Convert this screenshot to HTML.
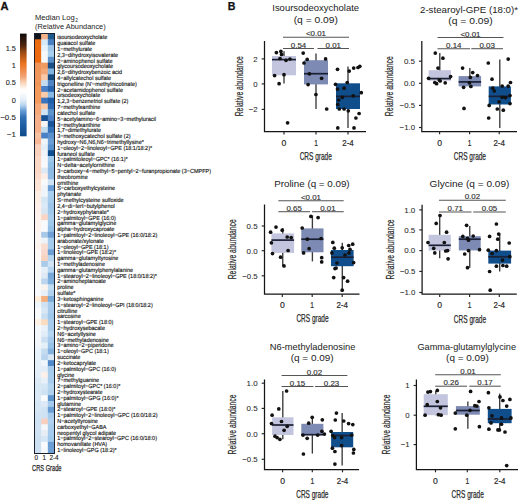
<!DOCTYPE html>
<html><head><meta charset="utf-8"><style>
html,body{margin:0;padding:0;background:#fff;width:520px;height:500px;overflow:hidden}
svg{display:block}
text{font-family:"Liberation Sans", sans-serif}
</style></head><body>
<svg width="520" height="500" viewBox="0 0 520 500">
<defs><linearGradient id="cb" x1="0" y1="0" x2="0" y2="1"><stop offset="0.0000" stop-color="#0e0a08"/><stop offset="0.1106" stop-color="#4a2410"/><stop offset="0.1876" stop-color="#a04c14"/><stop offset="0.2948" stop-color="#ec7420"/><stop offset="0.4121" stop-color="#f2a070"/><stop offset="0.4724" stop-color="#f8d0b0"/><stop offset="0.5461" stop-color="#ffffff"/><stop offset="0.5796" stop-color="#fbfcfd"/><stop offset="0.6466" stop-color="#e4eef8"/><stop offset="0.6968" stop-color="#b8d4ee"/><stop offset="0.7471" stop-color="#6a9fd8"/><stop offset="0.8141" stop-color="#2f6fb4"/><stop offset="0.9146" stop-color="#1a5a9e"/><stop offset="1.0000" stop-color="#0d4a88"/></linearGradient></defs>
<rect width="520" height="500" fill="#fff"/>
<text x="0.60" y="10.40" font-size="11.8" text-anchor="start" fill="#111" textLength="8.00" lengthAdjust="spacingAndGlyphs" font-weight="bold" stroke="#111" stroke-width="0.3">A</text>
<text x="35.00" y="19.70" font-size="7.5" text-anchor="start" fill="#222" textLength="39.80" lengthAdjust="spacingAndGlyphs">Median Log</text>
<text x="75.30" y="22.20" font-size="4.8" text-anchor="start" fill="#222">2</text>
<text x="35.00" y="28.70" font-size="7.5" text-anchor="start" fill="#222" textLength="70.70" lengthAdjust="spacingAndGlyphs">(Relative Abundance)</text>
<rect x="20" y="33.61" width="6.6" height="102.68" fill="url(#cb)"/>
<text x="15.80" y="51.00" font-size="7.3" text-anchor="end" fill="#2a2a2a" stroke="#2a2a2a" stroke-width="0.12">1.5</text>
<text x="15.80" y="68.20" font-size="7.3" text-anchor="end" fill="#2a2a2a" stroke="#2a2a2a" stroke-width="0.12">1</text>
<text x="15.80" y="85.40" font-size="7.3" text-anchor="end" fill="#2a2a2a" stroke="#2a2a2a" stroke-width="0.12">0.5</text>
<text x="15.80" y="102.60" font-size="7.3" text-anchor="end" fill="#2a2a2a" stroke="#2a2a2a" stroke-width="0.12">0</text>
<text x="15.80" y="119.80" font-size="7.3" text-anchor="end" fill="#2a2a2a" textLength="15.60" lengthAdjust="spacingAndGlyphs" stroke="#2a2a2a" stroke-width="0.12">−0.5</text>
<text x="15.80" y="137.00" font-size="7.3" text-anchor="end" fill="#2a2a2a" textLength="9.00" lengthAdjust="spacingAndGlyphs" stroke="#2a2a2a" stroke-width="0.12">−1</text>
<rect x="34.50" y="33.500" width="7.27" height="6.433" fill="#10141c"/>
<rect x="41.17" y="33.500" width="7.27" height="6.433" fill="#f5b38a"/>
<rect x="47.83" y="33.500" width="6.67" height="6.433" fill="#1f5a8c"/>
<rect x="34.50" y="39.333" width="7.27" height="6.433" fill="#ec6a10"/>
<rect x="41.17" y="39.333" width="7.27" height="6.433" fill="#d5e8f5"/>
<rect x="47.83" y="39.333" width="6.67" height="6.433" fill="#4a7fc0"/>
<rect x="34.50" y="45.167" width="7.27" height="6.433" fill="#ec6a10"/>
<rect x="41.17" y="45.167" width="7.27" height="6.433" fill="#e8f2fa"/>
<rect x="47.83" y="45.167" width="6.67" height="6.433" fill="#9cc5e8"/>
<rect x="34.50" y="51.000" width="7.27" height="6.433" fill="#ec6a10"/>
<rect x="41.17" y="51.000" width="7.27" height="6.433" fill="#f4f8fb"/>
<rect x="47.83" y="51.000" width="6.67" height="6.433" fill="#a8cfee"/>
<rect x="34.50" y="56.833" width="7.27" height="6.433" fill="#ec6a10"/>
<rect x="41.17" y="56.833" width="7.27" height="6.433" fill="#f8f9fa"/>
<rect x="47.83" y="56.833" width="6.67" height="6.433" fill="#5a90c8"/>
<rect x="34.50" y="62.667" width="7.27" height="6.433" fill="#f0955a"/>
<rect x="41.17" y="62.667" width="7.27" height="6.433" fill="#f19a60"/>
<rect x="47.83" y="62.667" width="6.67" height="6.433" fill="#1c4f85"/>
<rect x="34.50" y="68.500" width="7.27" height="6.433" fill="#f0955a"/>
<rect x="41.17" y="68.500" width="7.27" height="6.433" fill="#f4a878"/>
<rect x="47.83" y="68.500" width="6.67" height="6.433" fill="#82b4e0"/>
<rect x="34.50" y="74.333" width="7.27" height="6.433" fill="#f0955a"/>
<rect x="41.17" y="74.333" width="7.27" height="6.433" fill="#f8c8a8"/>
<rect x="47.83" y="74.333" width="6.67" height="6.433" fill="#174a7e"/>
<rect x="34.50" y="80.167" width="7.27" height="6.433" fill="#f0955a"/>
<rect x="41.17" y="80.167" width="7.27" height="6.433" fill="#c5dcf0"/>
<rect x="47.83" y="80.167" width="6.67" height="6.433" fill="#4f85c4"/>
<rect x="34.50" y="86.000" width="7.27" height="6.433" fill="#f39a5c"/>
<rect x="41.17" y="86.000" width="7.27" height="6.433" fill="#4a80c8"/>
<rect x="47.83" y="86.000" width="6.67" height="6.433" fill="#2a66b0"/>
<rect x="34.50" y="91.833" width="7.27" height="6.433" fill="#f39a5c"/>
<rect x="41.17" y="91.833" width="7.27" height="6.433" fill="#f9cba8"/>
<rect x="47.83" y="91.833" width="6.67" height="6.433" fill="#8ab8e5"/>
<rect x="34.50" y="97.667" width="7.27" height="6.433" fill="#f39a5c"/>
<rect x="41.17" y="97.667" width="7.27" height="6.433" fill="#3a74bf"/>
<rect x="47.83" y="97.667" width="6.67" height="6.433" fill="#2060aa"/>
<rect x="34.50" y="103.500" width="7.27" height="6.433" fill="#f5a878"/>
<rect x="41.17" y="103.500" width="7.27" height="6.433" fill="#f8c9a8"/>
<rect x="47.83" y="103.500" width="6.67" height="6.433" fill="#2d6bb5"/>
<rect x="34.50" y="109.333" width="7.27" height="6.433" fill="#f5a878"/>
<rect x="41.17" y="109.333" width="7.27" height="6.433" fill="#d0e4f5"/>
<rect x="47.83" y="109.333" width="6.67" height="6.433" fill="#5e94cc"/>
<rect x="34.50" y="115.167" width="7.27" height="6.433" fill="#f5b08a"/>
<rect x="41.17" y="115.167" width="7.27" height="6.433" fill="#1a5296"/>
<rect x="47.83" y="115.167" width="6.67" height="6.433" fill="#4a82c5"/>
<rect x="34.50" y="121.000" width="7.27" height="6.433" fill="#f5b08a"/>
<rect x="41.17" y="121.000" width="7.27" height="6.433" fill="#f5f5f5"/>
<rect x="47.83" y="121.000" width="6.67" height="6.433" fill="#1c569a"/>
<rect x="34.50" y="126.833" width="7.27" height="6.433" fill="#f5b08a"/>
<rect x="41.17" y="126.833" width="7.27" height="6.433" fill="#c0daf0"/>
<rect x="47.83" y="126.833" width="6.67" height="6.433" fill="#3472b8"/>
<rect x="34.50" y="132.667" width="7.27" height="6.433" fill="#f7c0a0"/>
<rect x="41.17" y="132.667" width="7.27" height="6.433" fill="#4a80c4"/>
<rect x="47.83" y="132.667" width="6.67" height="6.433" fill="#5a90cc"/>
<rect x="34.50" y="138.500" width="7.27" height="6.433" fill="#f8b898"/>
<rect x="41.17" y="138.500" width="7.27" height="6.433" fill="#eef5fb"/>
<rect x="47.83" y="138.500" width="6.67" height="6.433" fill="#6a9ed4"/>
<rect x="34.50" y="144.333" width="7.27" height="6.433" fill="#f9d0bb"/>
<rect x="41.17" y="144.333" width="7.27" height="6.433" fill="#e5eff8"/>
<rect x="47.83" y="144.333" width="6.67" height="6.433" fill="#5890cc"/>
<rect x="34.50" y="150.167" width="7.27" height="6.433" fill="#f9d0bb"/>
<rect x="41.17" y="150.167" width="7.27" height="6.433" fill="#f0f5fa"/>
<rect x="47.83" y="150.167" width="6.67" height="6.433" fill="#0f4e8e"/>
<rect x="34.50" y="156.000" width="7.27" height="6.433" fill="#fbd8c5"/>
<rect x="41.17" y="156.000" width="7.27" height="6.433" fill="#f5f7fa"/>
<rect x="47.83" y="156.000" width="6.67" height="6.433" fill="#a0c8ea"/>
<rect x="34.50" y="161.833" width="7.27" height="6.433" fill="#fbd8c5"/>
<rect x="41.17" y="161.833" width="7.27" height="6.433" fill="#f8f9fa"/>
<rect x="47.83" y="161.833" width="6.67" height="6.433" fill="#92bfe6"/>
<rect x="34.50" y="167.667" width="7.27" height="6.433" fill="#fbd8c5"/>
<rect x="41.17" y="167.667" width="7.27" height="6.433" fill="#dde9f5"/>
<rect x="47.83" y="167.667" width="6.67" height="6.433" fill="#8db9e2"/>
<rect x="34.50" y="173.500" width="7.27" height="6.433" fill="#fbdccc"/>
<rect x="41.17" y="173.500" width="7.27" height="6.433" fill="#fbeee8"/>
<rect x="47.83" y="173.500" width="6.67" height="6.433" fill="#8fbbe4"/>
<rect x="34.50" y="179.333" width="7.27" height="6.433" fill="#fce3d5"/>
<rect x="41.17" y="179.333" width="7.27" height="6.433" fill="#f8f9fa"/>
<rect x="47.83" y="179.333" width="6.67" height="6.433" fill="#d0e3f4"/>
<rect x="34.50" y="185.167" width="7.27" height="6.433" fill="#fce3d5"/>
<rect x="41.17" y="185.167" width="7.27" height="6.433" fill="#f0f4f8"/>
<rect x="47.83" y="185.167" width="6.67" height="6.433" fill="#6c9fd5"/>
<rect x="34.50" y="191.000" width="7.27" height="6.433" fill="#fdeee5"/>
<rect x="41.17" y="191.000" width="7.27" height="6.433" fill="#eef5fb"/>
<rect x="47.83" y="191.000" width="6.67" height="6.433" fill="#a8cdee"/>
<rect x="34.50" y="196.833" width="7.27" height="6.433" fill="#fdeee5"/>
<rect x="41.17" y="196.833" width="7.27" height="6.433" fill="#d5e6f5"/>
<rect x="47.83" y="196.833" width="6.67" height="6.433" fill="#a5cbec"/>
<rect x="34.50" y="202.667" width="7.27" height="6.433" fill="#fdf0ea"/>
<rect x="41.17" y="202.667" width="7.27" height="6.433" fill="#dce9f6"/>
<rect x="47.83" y="202.667" width="6.67" height="6.433" fill="#9dc5ea"/>
<rect x="34.50" y="208.500" width="7.27" height="6.433" fill="#fdf0ea"/>
<rect x="41.17" y="208.500" width="7.27" height="6.433" fill="#d8e6f2"/>
<rect x="47.83" y="208.500" width="6.67" height="6.433" fill="#a0c8ea"/>
<rect x="34.50" y="214.333" width="7.27" height="6.433" fill="#fdf2ee"/>
<rect x="41.17" y="214.333" width="7.27" height="6.433" fill="#fad5c5"/>
<rect x="47.83" y="214.333" width="6.67" height="6.433" fill="#a8ceec"/>
<rect x="34.50" y="220.167" width="7.27" height="6.433" fill="#fdf2ee"/>
<rect x="41.17" y="220.167" width="7.27" height="6.433" fill="#f8fafc"/>
<rect x="47.83" y="220.167" width="6.67" height="6.433" fill="#a0c8ea"/>
<rect x="34.50" y="226.000" width="7.27" height="6.433" fill="#fdf3ef"/>
<rect x="41.17" y="226.000" width="7.27" height="6.433" fill="#f8fafc"/>
<rect x="47.83" y="226.000" width="6.67" height="6.433" fill="#95c0e6"/>
<rect x="34.50" y="231.833" width="7.27" height="6.433" fill="#fbf6f4"/>
<rect x="41.17" y="231.833" width="7.27" height="6.433" fill="#a8c8e8"/>
<rect x="47.83" y="231.833" width="6.67" height="6.433" fill="#6e9fd5"/>
<rect x="34.50" y="237.667" width="7.27" height="6.433" fill="#fbf6f4"/>
<rect x="41.17" y="237.667" width="7.27" height="6.433" fill="#eef3f8"/>
<rect x="47.83" y="237.667" width="6.67" height="6.433" fill="#a5cbec"/>
<rect x="34.50" y="243.500" width="7.27" height="6.433" fill="#fdf3ee"/>
<rect x="41.17" y="243.500" width="7.27" height="6.433" fill="#f9ddd0"/>
<rect x="47.83" y="243.500" width="6.67" height="6.433" fill="#a5cbec"/>
<rect x="34.50" y="249.333" width="7.27" height="6.433" fill="#fbf8f6"/>
<rect x="41.17" y="249.333" width="7.27" height="6.433" fill="#f8d8cc"/>
<rect x="47.83" y="249.333" width="6.67" height="6.433" fill="#6d9fd4"/>
<rect x="34.50" y="255.167" width="7.27" height="6.433" fill="#fbf8f6"/>
<rect x="41.17" y="255.167" width="7.27" height="6.433" fill="#f8d2c0"/>
<rect x="47.83" y="255.167" width="6.67" height="6.433" fill="#b5d5f0"/>
<rect x="34.50" y="261.000" width="7.27" height="6.433" fill="#f8f8f8"/>
<rect x="41.17" y="261.000" width="7.27" height="6.433" fill="#a9cae8"/>
<rect x="47.83" y="261.000" width="6.67" height="6.433" fill="#d0e4f5"/>
<rect x="34.50" y="266.833" width="7.27" height="6.433" fill="#f8f8f8"/>
<rect x="41.17" y="266.833" width="7.27" height="6.433" fill="#e5eff8"/>
<rect x="47.83" y="266.833" width="6.67" height="6.433" fill="#b5d5f0"/>
<rect x="34.50" y="272.667" width="7.27" height="6.433" fill="#f8f8f8"/>
<rect x="41.17" y="272.667" width="7.27" height="6.433" fill="#dfeaf6"/>
<rect x="47.83" y="272.667" width="6.67" height="6.433" fill="#78a8d8"/>
<rect x="34.50" y="278.500" width="7.27" height="6.433" fill="#f8f8f8"/>
<rect x="41.17" y="278.500" width="7.27" height="6.433" fill="#bcd5ee"/>
<rect x="47.83" y="278.500" width="6.67" height="6.433" fill="#80b0dd"/>
<rect x="34.50" y="284.333" width="7.27" height="6.433" fill="#f8f8f8"/>
<rect x="41.17" y="284.333" width="7.27" height="6.433" fill="#fbf4ee"/>
<rect x="47.83" y="284.333" width="6.67" height="6.433" fill="#c0dcf2"/>
<rect x="34.50" y="290.167" width="7.27" height="6.433" fill="#f8f9fa"/>
<rect x="41.17" y="290.167" width="7.27" height="6.433" fill="#e8f0f8"/>
<rect x="47.83" y="290.167" width="6.67" height="6.433" fill="#b0d2ee"/>
<rect x="34.50" y="296.000" width="7.27" height="6.433" fill="#fdeede"/>
<rect x="41.17" y="296.000" width="7.27" height="6.433" fill="#f5b080"/>
<rect x="47.83" y="296.000" width="6.67" height="6.433" fill="#7aaad8"/>
<rect x="34.50" y="301.833" width="7.27" height="6.433" fill="#eef5fb"/>
<rect x="41.17" y="301.833" width="7.27" height="6.433" fill="#cfe2f3"/>
<rect x="47.83" y="301.833" width="6.67" height="6.433" fill="#a8ccec"/>
<rect x="34.50" y="307.667" width="7.27" height="6.433" fill="#f8fafc"/>
<rect x="41.17" y="307.667" width="7.27" height="6.433" fill="#d8e7f5"/>
<rect x="47.83" y="307.667" width="6.67" height="6.433" fill="#a5caec"/>
<rect x="34.50" y="313.500" width="7.27" height="6.433" fill="#f8fafc"/>
<rect x="41.17" y="313.500" width="7.27" height="6.433" fill="#c8def2"/>
<rect x="47.83" y="313.500" width="6.67" height="6.433" fill="#9ec6ea"/>
<rect x="34.50" y="319.333" width="7.27" height="6.433" fill="#fdf0e5"/>
<rect x="41.17" y="319.333" width="7.27" height="6.433" fill="#fbdcc0"/>
<rect x="47.83" y="319.333" width="6.67" height="6.433" fill="#a8ccec"/>
<rect x="34.50" y="325.167" width="7.27" height="6.433" fill="#f5f8fb"/>
<rect x="41.17" y="325.167" width="7.27" height="6.433" fill="#eaf2f9"/>
<rect x="47.83" y="325.167" width="6.67" height="6.433" fill="#a8ccec"/>
<rect x="34.50" y="331.000" width="7.27" height="6.433" fill="#f5f8fb"/>
<rect x="41.17" y="331.000" width="7.27" height="6.433" fill="#e0ecf7"/>
<rect x="47.83" y="331.000" width="6.67" height="6.433" fill="#b5d5f0"/>
<rect x="34.50" y="336.833" width="7.27" height="6.433" fill="#f2f6fa"/>
<rect x="41.17" y="336.833" width="7.27" height="6.433" fill="#cde0f2"/>
<rect x="47.83" y="336.833" width="6.67" height="6.433" fill="#a5caec"/>
<rect x="34.50" y="342.667" width="7.27" height="6.433" fill="#f0f5fa"/>
<rect x="41.17" y="342.667" width="7.27" height="6.433" fill="#e5eff8"/>
<rect x="47.83" y="342.667" width="6.67" height="6.433" fill="#98c2e8"/>
<rect x="34.50" y="348.500" width="7.27" height="6.433" fill="#e8f2fa"/>
<rect x="41.17" y="348.500" width="7.27" height="6.433" fill="#c5dcf0"/>
<rect x="47.83" y="348.500" width="6.67" height="6.433" fill="#82b0dd"/>
<rect x="34.50" y="354.333" width="7.27" height="6.433" fill="#e8f2fa"/>
<rect x="41.17" y="354.333" width="7.27" height="6.433" fill="#b8d4ee"/>
<rect x="47.83" y="354.333" width="6.67" height="6.433" fill="#d5e6f5"/>
<rect x="34.50" y="360.167" width="7.27" height="6.433" fill="#e5eff8"/>
<rect x="41.17" y="360.167" width="7.27" height="6.433" fill="#eef5fb"/>
<rect x="47.83" y="360.167" width="6.67" height="6.433" fill="#5088c8"/>
<rect x="34.50" y="366.000" width="7.27" height="6.433" fill="#e5eff8"/>
<rect x="41.17" y="366.000" width="7.27" height="6.433" fill="#e2edf8"/>
<rect x="47.83" y="366.000" width="6.67" height="6.433" fill="#a5caec"/>
<rect x="34.50" y="371.833" width="7.27" height="6.433" fill="#e2eef8"/>
<rect x="41.17" y="371.833" width="7.27" height="6.433" fill="#fbf0ea"/>
<rect x="47.83" y="371.833" width="6.67" height="6.433" fill="#a8ccec"/>
<rect x="34.50" y="377.667" width="7.27" height="6.433" fill="#dceaf6"/>
<rect x="41.17" y="377.667" width="7.27" height="6.433" fill="#e8f0f8"/>
<rect x="47.83" y="377.667" width="6.67" height="6.433" fill="#a8ccec"/>
<rect x="34.50" y="383.500" width="7.27" height="6.433" fill="#d8e8f5"/>
<rect x="41.17" y="383.500" width="7.27" height="6.433" fill="#d5e6f5"/>
<rect x="47.83" y="383.500" width="6.67" height="6.433" fill="#b5d5f0"/>
<rect x="34.50" y="389.333" width="7.27" height="6.433" fill="#d8e8f5"/>
<rect x="41.17" y="389.333" width="7.27" height="6.433" fill="#cfe2f3"/>
<rect x="47.83" y="389.333" width="6.67" height="6.433" fill="#b0d2ee"/>
<rect x="34.50" y="395.167" width="7.27" height="6.433" fill="#dbe9f6"/>
<rect x="41.17" y="395.167" width="7.27" height="6.433" fill="#f8fafc"/>
<rect x="47.83" y="395.167" width="6.67" height="6.433" fill="#5e94cc"/>
<rect x="34.50" y="401.000" width="7.27" height="6.433" fill="#d5e6f5"/>
<rect x="41.17" y="401.000" width="7.27" height="6.433" fill="#dde9f6"/>
<rect x="47.83" y="401.000" width="6.67" height="6.433" fill="#a5caec"/>
<rect x="34.50" y="406.833" width="7.27" height="6.433" fill="#d5e6f5"/>
<rect x="41.17" y="406.833" width="7.27" height="6.433" fill="#d0e3f4"/>
<rect x="47.83" y="406.833" width="6.67" height="6.433" fill="#6a9ed4"/>
<rect x="34.50" y="412.667" width="7.27" height="6.433" fill="#d0e3f4"/>
<rect x="41.17" y="412.667" width="7.27" height="6.433" fill="#cfe2f3"/>
<rect x="47.83" y="412.667" width="6.67" height="6.433" fill="#a5caec"/>
<rect x="34.50" y="418.500" width="7.27" height="6.433" fill="#cfe2f3"/>
<rect x="41.17" y="418.500" width="7.27" height="6.433" fill="#f7d0c0"/>
<rect x="47.83" y="418.500" width="6.67" height="6.433" fill="#b0d2ee"/>
<rect x="34.50" y="424.333" width="7.27" height="6.433" fill="#cfe2f3"/>
<rect x="41.17" y="424.333" width="7.27" height="6.433" fill="#f5f7fa"/>
<rect x="47.83" y="424.333" width="6.67" height="6.433" fill="#a8ccec"/>
<rect x="34.50" y="430.167" width="7.27" height="6.433" fill="#cfe2f3"/>
<rect x="41.17" y="430.167" width="7.27" height="6.433" fill="#e6edf5"/>
<rect x="47.83" y="430.167" width="6.67" height="6.433" fill="#a5caec"/>
<rect x="34.50" y="436.000" width="7.27" height="6.433" fill="#cde0f2"/>
<rect x="41.17" y="436.000" width="7.27" height="6.433" fill="#d5e6f5"/>
<rect x="47.83" y="436.000" width="6.67" height="6.433" fill="#a0c8ea"/>
<rect x="34.50" y="441.833" width="7.27" height="6.433" fill="#cde0f2"/>
<rect x="41.17" y="441.833" width="7.27" height="6.433" fill="#f8fafc"/>
<rect x="47.83" y="441.833" width="6.67" height="6.433" fill="#6a9ed4"/>
<rect x="34.50" y="447.667" width="7.27" height="5.833" fill="#cde0f2"/>
<rect x="41.17" y="447.667" width="7.27" height="5.833" fill="#f5f8fb"/>
<rect x="47.83" y="447.667" width="6.67" height="5.833" fill="#6fa0d5"/>
<rect x="34.50" y="33.50" width="20.00" height="420.00" fill="none" stroke="#1b1f2a" stroke-width="1.0"/>
<text x="57.20" y="39.30" font-size="5.9" text-anchor="start" fill="#111" textLength="50.05" lengthAdjust="spacingAndGlyphs" text-rendering="geometricPrecision" stroke="#111" stroke-width="0.14">isoursodeoxycholate</text>
<text x="57.20" y="45.11" font-size="5.9" text-anchor="start" fill="#111" textLength="38.15" lengthAdjust="spacingAndGlyphs" text-rendering="geometricPrecision" stroke="#111" stroke-width="0.14">guaiacol sulfate</text>
<text x="57.20" y="50.93" font-size="5.9" text-anchor="start" fill="#111" textLength="34.94" lengthAdjust="spacingAndGlyphs" text-rendering="geometricPrecision" stroke="#111" stroke-width="0.14">1−methylurate</text>
<text x="57.20" y="56.74" font-size="5.9" text-anchor="start" fill="#111" textLength="60.88" lengthAdjust="spacingAndGlyphs" text-rendering="geometricPrecision" stroke="#111" stroke-width="0.14">2,3−dihydroxyisovalerate</text>
<text x="57.20" y="62.56" font-size="5.9" text-anchor="start" fill="#111" textLength="55.40" lengthAdjust="spacingAndGlyphs" text-rendering="geometricPrecision" stroke="#111" stroke-width="0.14">2−aminophenol sulfate</text>
<text x="57.20" y="68.37" font-size="5.9" text-anchor="start" fill="#111" textLength="55.85" lengthAdjust="spacingAndGlyphs" text-rendering="geometricPrecision" stroke="#111" stroke-width="0.14">glycoursodeoxycholate</text>
<text x="57.20" y="74.18" font-size="5.9" text-anchor="start" fill="#111" textLength="64.85" lengthAdjust="spacingAndGlyphs" text-rendering="geometricPrecision" stroke="#111" stroke-width="0.14">2,6−dihydroxybenzoic acid</text>
<text x="57.20" y="80.00" font-size="5.9" text-anchor="start" fill="#111" textLength="53.87" lengthAdjust="spacingAndGlyphs" text-rendering="geometricPrecision" stroke="#111" stroke-width="0.14">4−allylcatechol sulfate</text>
<text x="57.20" y="85.81" font-size="5.9" text-anchor="start" fill="#111" textLength="79.62" lengthAdjust="spacingAndGlyphs" text-rendering="geometricPrecision" stroke="#111" stroke-width="0.14">trigonelline (N'−methylnicotinate)</text>
<text x="57.20" y="91.63" font-size="5.9" text-anchor="start" fill="#111" textLength="65.78" lengthAdjust="spacingAndGlyphs" text-rendering="geometricPrecision" stroke="#111" stroke-width="0.14">2−acetamidophenol sulfate</text>
<text x="57.20" y="97.44" font-size="5.9" text-anchor="start" fill="#111" textLength="43.03" lengthAdjust="spacingAndGlyphs" text-rendering="geometricPrecision" stroke="#111" stroke-width="0.14">ursodeoxycholate</text>
<text x="57.20" y="103.25" font-size="5.9" text-anchor="start" fill="#111" textLength="71.26" lengthAdjust="spacingAndGlyphs" text-rendering="geometricPrecision" stroke="#111" stroke-width="0.14">1,2,3−benzenetriol sulfate (2)</text>
<text x="57.20" y="109.07" font-size="5.9" text-anchor="start" fill="#111" textLength="43.19" lengthAdjust="spacingAndGlyphs" text-rendering="geometricPrecision" stroke="#111" stroke-width="0.14">7−methylxanthine</text>
<text x="57.20" y="114.88" font-size="5.9" text-anchor="start" fill="#111" textLength="38.15" lengthAdjust="spacingAndGlyphs" text-rendering="geometricPrecision" stroke="#111" stroke-width="0.14">catechol sulfate</text>
<text x="57.20" y="120.70" font-size="5.9" text-anchor="start" fill="#111" textLength="98.73" lengthAdjust="spacingAndGlyphs" text-rendering="geometricPrecision" stroke="#111" stroke-width="0.14">5−acetylamino−6−amino−3−methyluracil</text>
<text x="57.20" y="126.51" font-size="5.9" text-anchor="start" fill="#111" textLength="43.19" lengthAdjust="spacingAndGlyphs" text-rendering="geometricPrecision" stroke="#111" stroke-width="0.14">3−methylxanthine</text>
<text x="57.20" y="132.32" font-size="5.9" text-anchor="start" fill="#111" textLength="43.79" lengthAdjust="spacingAndGlyphs" text-rendering="geometricPrecision" stroke="#111" stroke-width="0.14">1,7−dimethylurate</text>
<text x="57.20" y="138.14" font-size="5.9" text-anchor="start" fill="#111" textLength="73.39" lengthAdjust="spacingAndGlyphs" text-rendering="geometricPrecision" stroke="#111" stroke-width="0.14">3−methoxycatechol sulfate (2)</text>
<text x="57.20" y="143.95" font-size="5.9" text-anchor="start" fill="#111" textLength="86.66" lengthAdjust="spacingAndGlyphs" text-rendering="geometricPrecision" stroke="#111" stroke-width="0.14">hydroxy−N6,N6,N6−trimethyllysine*</text>
<text x="57.20" y="149.77" font-size="5.9" text-anchor="start" fill="#111" textLength="94.92" lengthAdjust="spacingAndGlyphs" text-rendering="geometricPrecision" stroke="#111" stroke-width="0.14">1−oleoyl−2−linoleoyl−GPE (18:1/18:2)*</text>
<text x="57.20" y="155.58" font-size="5.9" text-anchor="start" fill="#111" textLength="37.54" lengthAdjust="spacingAndGlyphs" text-rendering="geometricPrecision" stroke="#111" stroke-width="0.14">furaneol sulfate</text>
<text x="57.20" y="161.39" font-size="5.9" text-anchor="start" fill="#111" textLength="70.49" lengthAdjust="spacingAndGlyphs" text-rendering="geometricPrecision" stroke="#111" stroke-width="0.14">1−palmitoleoyl−GPC* (16:1)*</text>
<text x="57.20" y="167.21" font-size="5.9" text-anchor="start" fill="#111" textLength="57.68" lengthAdjust="spacingAndGlyphs" text-rendering="geometricPrecision" stroke="#111" stroke-width="0.14">N−delta−acetylornithine</text>
<text x="57.20" y="173.02" font-size="5.9" text-anchor="start" fill="#111" textLength="153.81" lengthAdjust="spacingAndGlyphs" text-rendering="geometricPrecision" stroke="#111" stroke-width="0.14">3−carboxy−4−methyl−5−pentyl−2−furanpropionate (3−CMPFP)</text>
<text x="57.20" y="178.84" font-size="5.9" text-anchor="start" fill="#111" textLength="30.52" lengthAdjust="spacingAndGlyphs" text-rendering="geometricPrecision" stroke="#111" stroke-width="0.14">theobromine</text>
<text x="57.20" y="184.65" font-size="5.9" text-anchor="start" fill="#111" textLength="21.06" lengthAdjust="spacingAndGlyphs" text-rendering="geometricPrecision" stroke="#111" stroke-width="0.14">ornithine</text>
<text x="57.20" y="190.46" font-size="5.9" text-anchor="start" fill="#111" textLength="57.83" lengthAdjust="spacingAndGlyphs" text-rendering="geometricPrecision" stroke="#111" stroke-width="0.14">S−carboxyethylcysteine</text>
<text x="57.20" y="196.28" font-size="5.9" text-anchor="start" fill="#111" textLength="24.12" lengthAdjust="spacingAndGlyphs" text-rendering="geometricPrecision" stroke="#111" stroke-width="0.14">phytanate</text>
<text x="57.20" y="202.09" font-size="5.9" text-anchor="start" fill="#111" textLength="66.37" lengthAdjust="spacingAndGlyphs" text-rendering="geometricPrecision" stroke="#111" stroke-width="0.14">S−methylcysteine sulfoxide</text>
<text x="57.20" y="207.91" font-size="5.9" text-anchor="start" fill="#111" textLength="57.54" lengthAdjust="spacingAndGlyphs" text-rendering="geometricPrecision" stroke="#111" stroke-width="0.14">2,4−di−tert−butylphenol</text>
<text x="57.20" y="213.72" font-size="5.9" text-anchor="start" fill="#111" textLength="51.73" lengthAdjust="spacingAndGlyphs" text-rendering="geometricPrecision" stroke="#111" stroke-width="0.14">2−hydroxyphytanate*</text>
<text x="57.20" y="219.53" font-size="5.9" text-anchor="start" fill="#111" textLength="58.59" lengthAdjust="spacingAndGlyphs" text-rendering="geometricPrecision" stroke="#111" stroke-width="0.14">1−palmitoyl−GPE (16:0)</text>
<text x="57.20" y="225.35" font-size="5.9" text-anchor="start" fill="#111" textLength="59.04" lengthAdjust="spacingAndGlyphs" text-rendering="geometricPrecision" stroke="#111" stroke-width="0.14">gamma−glutamylglycine</text>
<text x="57.20" y="231.16" font-size="5.9" text-anchor="start" fill="#111" textLength="57.23" lengthAdjust="spacingAndGlyphs" text-rendering="geometricPrecision" stroke="#111" stroke-width="0.14">alpha−hydroxycaproate</text>
<text x="57.20" y="236.98" font-size="5.9" text-anchor="start" fill="#111" textLength="100.10" lengthAdjust="spacingAndGlyphs" text-rendering="geometricPrecision" stroke="#111" stroke-width="0.14">1−palmitoyl−2−linoleoyl−GPE (16:0/18:2)</text>
<text x="57.20" y="242.79" font-size="5.9" text-anchor="start" fill="#111" textLength="46.70" lengthAdjust="spacingAndGlyphs" text-rendering="geometricPrecision" stroke="#111" stroke-width="0.14">arabonate/xylonate</text>
<text x="57.20" y="248.60" font-size="5.9" text-anchor="start" fill="#111" textLength="51.27" lengthAdjust="spacingAndGlyphs" text-rendering="geometricPrecision" stroke="#111" stroke-width="0.14">1−oleoyl−GPE (18:1)</text>
<text x="57.20" y="254.42" font-size="5.9" text-anchor="start" fill="#111" textLength="58.90" lengthAdjust="spacingAndGlyphs" text-rendering="geometricPrecision" stroke="#111" stroke-width="0.14">1−linoleoyl−GPE (18:2)*</text>
<text x="57.20" y="260.23" font-size="5.9" text-anchor="start" fill="#111" textLength="61.18" lengthAdjust="spacingAndGlyphs" text-rendering="geometricPrecision" stroke="#111" stroke-width="0.14">gamma−glutamyltyrosine</text>
<text x="57.20" y="266.05" font-size="5.9" text-anchor="start" fill="#111" textLength="47.77" lengthAdjust="spacingAndGlyphs" text-rendering="geometricPrecision" stroke="#111" stroke-width="0.14">1−methyladenosine</text>
<text x="57.20" y="271.86" font-size="5.9" text-anchor="start" fill="#111" textLength="75.84" lengthAdjust="spacingAndGlyphs" text-rendering="geometricPrecision" stroke="#111" stroke-width="0.14">gamma−glutamylphenylalanine</text>
<text x="57.20" y="277.67" font-size="5.9" text-anchor="start" fill="#111" textLength="99.80" lengthAdjust="spacingAndGlyphs" text-rendering="geometricPrecision" stroke="#111" stroke-width="0.14">1−stearoyl−2−linoleoyl−GPE (18:0/18:2)*</text>
<text x="57.20" y="283.49" font-size="5.9" text-anchor="start" fill="#111" textLength="48.69" lengthAdjust="spacingAndGlyphs" text-rendering="geometricPrecision" stroke="#111" stroke-width="0.14">2−aminoheptanoate</text>
<text x="57.20" y="289.30" font-size="5.9" text-anchor="start" fill="#111" textLength="16.48" lengthAdjust="spacingAndGlyphs" text-rendering="geometricPrecision" stroke="#111" stroke-width="0.14">proline</text>
<text x="57.20" y="295.12" font-size="5.9" text-anchor="start" fill="#111" textLength="18.31" lengthAdjust="spacingAndGlyphs" text-rendering="geometricPrecision" stroke="#111" stroke-width="0.14">sulfate*</text>
<text x="57.20" y="300.93" font-size="5.9" text-anchor="start" fill="#111" textLength="46.25" lengthAdjust="spacingAndGlyphs" text-rendering="geometricPrecision" stroke="#111" stroke-width="0.14">3−ketosphinganine</text>
<text x="57.20" y="306.74" font-size="5.9" text-anchor="start" fill="#111" textLength="95.53" lengthAdjust="spacingAndGlyphs" text-rendering="geometricPrecision" stroke="#111" stroke-width="0.14">1−stearoyl−2−linoleoyl−GPI (18:0/18:2)</text>
<text x="57.20" y="312.56" font-size="5.9" text-anchor="start" fill="#111" textLength="20.14" lengthAdjust="spacingAndGlyphs" text-rendering="geometricPrecision" stroke="#111" stroke-width="0.14">citrulline</text>
<text x="57.20" y="318.37" font-size="5.9" text-anchor="start" fill="#111" textLength="23.50" lengthAdjust="spacingAndGlyphs" text-rendering="geometricPrecision" stroke="#111" stroke-width="0.14">sarcosine</text>
<text x="57.20" y="324.19" font-size="5.9" text-anchor="start" fill="#111" textLength="56.15" lengthAdjust="spacingAndGlyphs" text-rendering="geometricPrecision" stroke="#111" stroke-width="0.14">1−stearoyl−GPE (18:0)</text>
<text x="57.20" y="330.00" font-size="5.9" text-anchor="start" fill="#111" textLength="47.76" lengthAdjust="spacingAndGlyphs" text-rendering="geometricPrecision" stroke="#111" stroke-width="0.14">2−hydroxysebacate</text>
<text x="57.20" y="335.81" font-size="5.9" text-anchor="start" fill="#111" textLength="38.60" lengthAdjust="spacingAndGlyphs" text-rendering="geometricPrecision" stroke="#111" stroke-width="0.14">N6−acetyllysine</text>
<text x="57.20" y="341.63" font-size="5.9" text-anchor="start" fill="#111" textLength="51.73" lengthAdjust="spacingAndGlyphs" text-rendering="geometricPrecision" stroke="#111" stroke-width="0.14">N6−methyladenosine</text>
<text x="57.20" y="347.44" font-size="5.9" text-anchor="start" fill="#111" textLength="56.32" lengthAdjust="spacingAndGlyphs" text-rendering="geometricPrecision" stroke="#111" stroke-width="0.14">3−amino−2−piperidone</text>
<text x="57.20" y="353.26" font-size="5.9" text-anchor="start" fill="#111" textLength="51.57" lengthAdjust="spacingAndGlyphs" text-rendering="geometricPrecision" stroke="#111" stroke-width="0.14">1−oleoyl−GPC (18:1)</text>
<text x="57.20" y="359.07" font-size="5.9" text-anchor="start" fill="#111" textLength="23.19" lengthAdjust="spacingAndGlyphs" text-rendering="geometricPrecision" stroke="#111" stroke-width="0.14">succinate</text>
<text x="57.20" y="364.88" font-size="5.9" text-anchor="start" fill="#111" textLength="38.91" lengthAdjust="spacingAndGlyphs" text-rendering="geometricPrecision" stroke="#111" stroke-width="0.14">2−ketocaprylate</text>
<text x="57.20" y="370.70" font-size="5.9" text-anchor="start" fill="#111" textLength="58.89" lengthAdjust="spacingAndGlyphs" text-rendering="geometricPrecision" stroke="#111" stroke-width="0.14">1−palmitoyl−GPC (16:0)</text>
<text x="57.20" y="376.51" font-size="5.9" text-anchor="start" fill="#111" textLength="17.09" lengthAdjust="spacingAndGlyphs" text-rendering="geometricPrecision" stroke="#111" stroke-width="0.14">glycine</text>
<text x="57.20" y="382.33" font-size="5.9" text-anchor="start" fill="#111" textLength="41.97" lengthAdjust="spacingAndGlyphs" text-rendering="geometricPrecision" stroke="#111" stroke-width="0.14">7−methylguanine</text>
<text x="57.20" y="388.14" font-size="5.9" text-anchor="start" fill="#111" textLength="63.16" lengthAdjust="spacingAndGlyphs" text-rendering="geometricPrecision" stroke="#111" stroke-width="0.14">2−palmitoyl−GPC* (16:0)*</text>
<text x="57.20" y="393.95" font-size="5.9" text-anchor="start" fill="#111" textLength="45.32" lengthAdjust="spacingAndGlyphs" text-rendering="geometricPrecision" stroke="#111" stroke-width="0.14">2−hydroxystearate</text>
<text x="57.20" y="399.77" font-size="5.9" text-anchor="start" fill="#111" textLength="61.33" lengthAdjust="spacingAndGlyphs" text-rendering="geometricPrecision" stroke="#111" stroke-width="0.14">1−palmitoyl−GPG (16:0)*</text>
<text x="57.20" y="405.58" font-size="5.9" text-anchor="start" fill="#111" textLength="23.80" lengthAdjust="spacingAndGlyphs" text-rendering="geometricPrecision" stroke="#111" stroke-width="0.14">glutamine</text>
<text x="57.20" y="411.40" font-size="5.9" text-anchor="start" fill="#111" textLength="58.29" lengthAdjust="spacingAndGlyphs" text-rendering="geometricPrecision" stroke="#111" stroke-width="0.14">2−stearoyl−GPE (18:0)*</text>
<text x="57.20" y="417.21" font-size="5.9" text-anchor="start" fill="#111" textLength="100.40" lengthAdjust="spacingAndGlyphs" text-rendering="geometricPrecision" stroke="#111" stroke-width="0.14">1−palmitoyl−2−linoleoyl−GPC (16:0/18:2)</text>
<text x="57.20" y="423.02" font-size="5.9" text-anchor="start" fill="#111" textLength="40.74" lengthAdjust="spacingAndGlyphs" text-rendering="geometricPrecision" stroke="#111" stroke-width="0.14">N−acetyltyrosine</text>
<text x="57.20" y="428.84" font-size="5.9" text-anchor="start" fill="#111" textLength="49.28" lengthAdjust="spacingAndGlyphs" text-rendering="geometricPrecision" stroke="#111" stroke-width="0.14">carboxyethyl−GABA</text>
<text x="57.20" y="434.65" font-size="5.9" text-anchor="start" fill="#111" textLength="58.91" lengthAdjust="spacingAndGlyphs" text-rendering="geometricPrecision" stroke="#111" stroke-width="0.14">neopentyl glycol adipate</text>
<text x="57.20" y="440.47" font-size="5.9" text-anchor="start" fill="#111" textLength="99.79" lengthAdjust="spacingAndGlyphs" text-rendering="geometricPrecision" stroke="#111" stroke-width="0.14">1−palmitoyl−2−stearoyl−GPC (16:0/18:0)</text>
<text x="57.20" y="446.28" font-size="5.9" text-anchor="start" fill="#111" textLength="49.94" lengthAdjust="spacingAndGlyphs" text-rendering="geometricPrecision" stroke="#111" stroke-width="0.14">homovanillate (HVA)</text>
<text x="57.20" y="452.09" font-size="5.9" text-anchor="start" fill="#111" textLength="59.51" lengthAdjust="spacingAndGlyphs" text-rendering="geometricPrecision" stroke="#111" stroke-width="0.14">1−linoleoyl−GPG (18:2)*</text>
<text x="36.20" y="460.30" font-size="6.3" text-anchor="middle" fill="#2a2a2a" stroke="#2a2a2a" stroke-width="0.15">0</text>
<text x="44.20" y="460.30" font-size="6.3" text-anchor="middle" fill="#2a2a2a" stroke="#2a2a2a" stroke-width="0.15">1</text>
<text x="54.00" y="460.30" font-size="6.3" text-anchor="middle" fill="#2a2a2a" textLength="9.20" lengthAdjust="spacingAndGlyphs" stroke="#2a2a2a" stroke-width="0.15">2-4</text>
<text x="32.10" y="471.30" font-size="9.6" text-anchor="start" fill="#222" textLength="29.40" lengthAdjust="spacingAndGlyphs" stroke="#222" stroke-width="0.25">CRS Grade</text>
<text x="227.70" y="10.40" font-size="11.3" text-anchor="start" fill="#111" textLength="7.70" lengthAdjust="spacingAndGlyphs" font-weight="bold" stroke="#111" stroke-width="0.25">B</text>
<text x="315.70" y="11.00" font-size="9.8" text-anchor="middle" fill="#222" textLength="86.90" lengthAdjust="spacingAndGlyphs">Isoursodeoxycholate</text>
<text x="315.80" y="22.50" font-size="9.8" text-anchor="middle" fill="#222" textLength="44.20" lengthAdjust="spacingAndGlyphs">(q = 0.09)</text>
<line x1="283" y1="37.3" x2="349" y2="37.3" stroke="#555" stroke-width="1.05"/>
<text x="316.00" y="36.30" font-size="7.0" text-anchor="middle" fill="#333" textLength="20.01" lengthAdjust="spacingAndGlyphs" stroke="#333" stroke-width="0.15">&lt;0.01</text>
<line x1="283" y1="48.5" x2="314" y2="48.5" stroke="#555" stroke-width="1.05"/>
<text x="298.50" y="47.50" font-size="7.0" text-anchor="middle" fill="#333" textLength="15.39" lengthAdjust="spacingAndGlyphs" stroke="#333" stroke-width="0.15">0.54</text>
<line x1="317.5" y1="48.5" x2="349" y2="48.5" stroke="#555" stroke-width="1.05"/>
<text x="333.25" y="47.50" font-size="7.0" text-anchor="middle" fill="#333" textLength="15.39" lengthAdjust="spacingAndGlyphs" stroke="#333" stroke-width="0.15">0.01</text>
<line x1="284.00" y1="51.3" x2="284.00" y2="83.5" stroke="#3a3a3a" stroke-width="1.35"/>
<rect x="272" y="56" width="24.00" height="19.30" fill="#c2c5dd"/>
<line x1="272" y1="59.6" x2="296" y2="59.6" stroke="#1a2035" stroke-width="1.7"/>
<line x1="316.00" y1="53.4" x2="316.00" y2="109" stroke="#3a3a3a" stroke-width="1.35"/>
<rect x="304" y="60.2" width="24.00" height="24.20" fill="#7d8ab3"/>
<line x1="304" y1="73.7" x2="328" y2="73.7" stroke="#1a2035" stroke-width="1.7"/>
<line x1="348.00" y1="66.5" x2="348.00" y2="127.9" stroke="#3a3a3a" stroke-width="1.35"/>
<rect x="336" y="83.3" width="24.00" height="25.70" fill="#0f4d8b"/>
<line x1="336" y1="96.4" x2="360" y2="96.4" stroke="#1a2035" stroke-width="1.7"/>
<circle cx="276.4" cy="52.6" r="1.85" fill="#111"/>
<circle cx="280.9" cy="51.3" r="1.85" fill="#111"/>
<circle cx="281.5" cy="54.4" r="1.85" fill="#111"/>
<circle cx="280.0" cy="58.5" r="1.85" fill="#111"/>
<circle cx="286.0" cy="60.3" r="1.85" fill="#111"/>
<circle cx="290.0" cy="59.0" r="1.85" fill="#111"/>
<circle cx="274.6" cy="75.6" r="1.85" fill="#111"/>
<circle cx="284.0" cy="74.7" r="1.85" fill="#111"/>
<circle cx="279.1" cy="83.7" r="1.85" fill="#111"/>
<circle cx="287.6" cy="122.8" r="1.85" fill="#111"/>
<circle cx="303.2" cy="53.1" r="1.85" fill="#111"/>
<circle cx="307.2" cy="59.4" r="1.85" fill="#111"/>
<circle cx="304.0" cy="63.0" r="1.85" fill="#111"/>
<circle cx="325.6" cy="58.9" r="1.85" fill="#111"/>
<circle cx="309.4" cy="73.8" r="1.85" fill="#111"/>
<circle cx="321.6" cy="78.3" r="1.85" fill="#111"/>
<circle cx="308.1" cy="84.6" r="1.85" fill="#111"/>
<circle cx="315.9" cy="94.5" r="1.85" fill="#111"/>
<circle cx="326.7" cy="109.0" r="1.85" fill="#111"/>
<circle cx="337.5" cy="69.3" r="1.85" fill="#111"/>
<circle cx="349.2" cy="71.1" r="1.85" fill="#111"/>
<circle cx="353.7" cy="68.1" r="1.85" fill="#111"/>
<circle cx="358.0" cy="67.5" r="1.85" fill="#111"/>
<circle cx="359.8" cy="66.3" r="1.85" fill="#111"/>
<circle cx="335.5" cy="84.3" r="1.85" fill="#111"/>
<circle cx="347.2" cy="82.5" r="1.85" fill="#111"/>
<circle cx="344.1" cy="88.2" r="1.85" fill="#111"/>
<circle cx="337.5" cy="89.1" r="1.85" fill="#111"/>
<circle cx="361.3" cy="92.7" r="1.85" fill="#111"/>
<circle cx="342.3" cy="97.3" r="1.85" fill="#111"/>
<circle cx="353.2" cy="95.8" r="1.85" fill="#111"/>
<circle cx="338.7" cy="100.0" r="1.85" fill="#111"/>
<circle cx="337.8" cy="104.5" r="1.85" fill="#111"/>
<circle cx="339.3" cy="109.0" r="1.85" fill="#111"/>
<circle cx="344.1" cy="109.0" r="1.85" fill="#111"/>
<circle cx="348.3" cy="110.8" r="1.85" fill="#111"/>
<circle cx="359.1" cy="113.5" r="1.85" fill="#111"/>
<circle cx="355.9" cy="118.0" r="1.85" fill="#111"/>
<circle cx="337.8" cy="127.9" r="1.85" fill="#111"/>
<circle cx="354.0" cy="127.9" r="1.85" fill="#111"/>
<path d="M264.5 41 V131.6 H366" fill="none" stroke="#151515" stroke-width="1.25"/>
<line x1="261.7" y1="58.9" x2="264.5" y2="58.9" stroke="#222" stroke-width="1.15"/>
<text x="257.70" y="61.70" font-size="7.8" text-anchor="end" fill="#2a2a2a" stroke="#2a2a2a" stroke-width="0.06">2</text>
<line x1="261.7" y1="83.9" x2="264.5" y2="83.9" stroke="#222" stroke-width="1.15"/>
<text x="257.70" y="86.70" font-size="7.8" text-anchor="end" fill="#2a2a2a" stroke="#2a2a2a" stroke-width="0.06">0</text>
<line x1="261.7" y1="109.4" x2="264.5" y2="109.4" stroke="#222" stroke-width="1.15"/>
<text x="257.70" y="112.20" font-size="7.8" text-anchor="end" fill="#2a2a2a" stroke="#2a2a2a" stroke-width="0.06">−2</text>
<line x1="284" y1="131.6" x2="284" y2="134.4" stroke="#222" stroke-width="1.15"/>
<text x="284.00" y="145.80" font-size="8.8" text-anchor="middle" fill="#2a2a2a" textLength="4.80" lengthAdjust="spacingAndGlyphs" stroke="#2a2a2a" stroke-width="0.2">0</text>
<line x1="316" y1="131.6" x2="316" y2="134.4" stroke="#222" stroke-width="1.15"/>
<text x="316.00" y="145.80" font-size="8.8" text-anchor="middle" fill="#2a2a2a" textLength="3.70" lengthAdjust="spacingAndGlyphs" stroke="#2a2a2a" stroke-width="0.2">1</text>
<line x1="348" y1="131.6" x2="348" y2="134.4" stroke="#222" stroke-width="1.15"/>
<text x="348.00" y="145.80" font-size="8.8" text-anchor="middle" fill="#2a2a2a" textLength="11.50" lengthAdjust="spacingAndGlyphs" stroke="#2a2a2a" stroke-width="0.2">2-4</text>
<text x="315.75" y="159.90" font-size="10.4" text-anchor="middle" fill="#2a2a2a" textLength="32.20" lengthAdjust="spacingAndGlyphs" stroke="#2a2a2a" stroke-width="0.25">CRS grade</text>
<text x="0" y="0" font-size="10.2" text-anchor="middle" fill="#2a2a2a" stroke="#2a2a2a" stroke-width="0.22" textLength="60" lengthAdjust="spacingAndGlyphs" transform="translate(243.00,86.30) rotate(-90)">Relative abundance</text>
<text x="469.00" y="12.50" font-size="9.8" text-anchor="middle" fill="#222" textLength="98.00" lengthAdjust="spacingAndGlyphs">2-stearoyl-GPE (18:0)*</text>
<text x="470.50" y="24.30" font-size="9.8" text-anchor="middle" fill="#222" textLength="44.50" lengthAdjust="spacingAndGlyphs">(q = 0.09)</text>
<line x1="437.5" y1="37.5" x2="503.5" y2="37.5" stroke="#555" stroke-width="1.05"/>
<text x="470.50" y="36.50" font-size="7.0" text-anchor="middle" fill="#333" textLength="20.01" lengthAdjust="spacingAndGlyphs" stroke="#333" stroke-width="0.15">&lt;0.01</text>
<line x1="437.5" y1="48.7" x2="470" y2="48.7" stroke="#555" stroke-width="1.05"/>
<text x="453.75" y="47.70" font-size="7.0" text-anchor="middle" fill="#333" textLength="15.39" lengthAdjust="spacingAndGlyphs" stroke="#333" stroke-width="0.15">0.14</text>
<line x1="471.3" y1="48.7" x2="503" y2="48.7" stroke="#555" stroke-width="1.05"/>
<text x="487.15" y="47.70" font-size="7.0" text-anchor="middle" fill="#333" textLength="15.39" lengthAdjust="spacingAndGlyphs" stroke="#333" stroke-width="0.15">0.03</text>
<line x1="439.80" y1="53.1" x2="439.80" y2="82" stroke="#3a3a3a" stroke-width="1.35"/>
<rect x="428.6" y="70.2" width="22.40" height="10.50" fill="#c2c5dd"/>
<line x1="428.6" y1="78.6" x2="451" y2="78.6" stroke="#1a2035" stroke-width="1.7"/>
<line x1="469.85" y1="68.1" x2="469.85" y2="87.3" stroke="#3a3a3a" stroke-width="1.35"/>
<rect x="458.6" y="76.1" width="22.50" height="10.30" fill="#7d8ab3"/>
<line x1="458.6" y1="81.9" x2="481.1" y2="81.9" stroke="#1a2035" stroke-width="1.7"/>
<line x1="499.80" y1="59.4" x2="499.80" y2="127.9" stroke="#3a3a3a" stroke-width="1.35"/>
<rect x="488.7" y="86.4" width="22.20" height="18.10" fill="#0f4d8b"/>
<line x1="488.7" y1="96.4" x2="510.9" y2="96.4" stroke="#1a2035" stroke-width="1.7"/>
<circle cx="435.3" cy="53.1" r="1.85" fill="#111"/>
<circle cx="442.9" cy="58.2" r="1.85" fill="#111"/>
<circle cx="438.0" cy="68.1" r="1.85" fill="#111"/>
<circle cx="428.6" cy="78.3" r="1.85" fill="#111"/>
<circle cx="450.6" cy="76.5" r="1.85" fill="#111"/>
<circle cx="439.3" cy="80.1" r="1.85" fill="#111"/>
<circle cx="434.8" cy="82.5" r="1.85" fill="#111"/>
<circle cx="436.6" cy="83.7" r="1.85" fill="#111"/>
<circle cx="445.2" cy="82.8" r="1.85" fill="#111"/>
<circle cx="440.2" cy="81.0" r="1.85" fill="#111"/>
<circle cx="462.6" cy="68.1" r="1.85" fill="#111"/>
<circle cx="472.7" cy="72.6" r="1.85" fill="#111"/>
<circle cx="477.5" cy="75.6" r="1.85" fill="#111"/>
<circle cx="470.3" cy="77.4" r="1.85" fill="#111"/>
<circle cx="469.4" cy="82.8" r="1.85" fill="#111"/>
<circle cx="463.6" cy="87.3" r="1.85" fill="#111"/>
<circle cx="470.9" cy="86.4" r="1.85" fill="#111"/>
<circle cx="464.0" cy="108.4" r="1.85" fill="#111"/>
<circle cx="488.3" cy="63.0" r="1.85" fill="#111"/>
<circle cx="508.2" cy="59.1" r="1.85" fill="#111"/>
<circle cx="492.0" cy="79.2" r="1.85" fill="#111"/>
<circle cx="510.5" cy="82.5" r="1.85" fill="#111"/>
<circle cx="502.2" cy="86.1" r="1.85" fill="#111"/>
<circle cx="508.2" cy="86.1" r="1.85" fill="#111"/>
<circle cx="494.3" cy="91.0" r="1.85" fill="#111"/>
<circle cx="502.2" cy="97.3" r="1.85" fill="#111"/>
<circle cx="505.5" cy="97.6" r="1.85" fill="#111"/>
<circle cx="510.0" cy="95.5" r="1.85" fill="#111"/>
<circle cx="499.1" cy="101.8" r="1.85" fill="#111"/>
<circle cx="489.2" cy="105.4" r="1.85" fill="#111"/>
<circle cx="510.0" cy="103.6" r="1.85" fill="#111"/>
<circle cx="497.3" cy="109.0" r="1.85" fill="#111"/>
<circle cx="503.3" cy="110.2" r="1.85" fill="#111"/>
<circle cx="488.7" cy="118.0" r="1.85" fill="#111"/>
<circle cx="492.8" cy="88.2" r="1.85" fill="#111"/>
<path d="M421.8 41 V131.5 H517" fill="none" stroke="#151515" stroke-width="1.25"/>
<line x1="419.0" y1="61.2" x2="421.8" y2="61.2" stroke="#222" stroke-width="1.15"/>
<text x="415.00" y="64.00" font-size="7.8" text-anchor="end" fill="#2a2a2a" textLength="11.06" lengthAdjust="spacingAndGlyphs" stroke="#2a2a2a" stroke-width="0.06">0.5</text>
<line x1="419.0" y1="83.3" x2="421.8" y2="83.3" stroke="#222" stroke-width="1.15"/>
<text x="415.00" y="86.10" font-size="7.8" text-anchor="end" fill="#2a2a2a" textLength="11.06" lengthAdjust="spacingAndGlyphs" stroke="#2a2a2a" stroke-width="0.06">0.0</text>
<line x1="419.0" y1="105.4" x2="421.8" y2="105.4" stroke="#222" stroke-width="1.15"/>
<text x="415.00" y="108.20" font-size="7.8" text-anchor="end" fill="#2a2a2a" textLength="15.40" lengthAdjust="spacingAndGlyphs" stroke="#2a2a2a" stroke-width="0.06">−0.5</text>
<line x1="419.0" y1="127.5" x2="421.8" y2="127.5" stroke="#222" stroke-width="1.15"/>
<text x="415.00" y="130.30" font-size="7.8" text-anchor="end" fill="#2a2a2a" textLength="15.40" lengthAdjust="spacingAndGlyphs" stroke="#2a2a2a" stroke-width="0.06">−1.0</text>
<line x1="439.6" y1="131.5" x2="439.6" y2="134.3" stroke="#222" stroke-width="1.15"/>
<text x="439.60" y="145.70" font-size="8.8" text-anchor="middle" fill="#2a2a2a" textLength="4.80" lengthAdjust="spacingAndGlyphs" stroke="#2a2a2a" stroke-width="0.2">0</text>
<line x1="469.6" y1="131.5" x2="469.6" y2="134.3" stroke="#222" stroke-width="1.15"/>
<text x="469.60" y="145.70" font-size="8.8" text-anchor="middle" fill="#2a2a2a" textLength="3.70" lengthAdjust="spacingAndGlyphs" stroke="#2a2a2a" stroke-width="0.2">1</text>
<line x1="499.2" y1="131.5" x2="499.2" y2="134.3" stroke="#222" stroke-width="1.15"/>
<text x="499.20" y="145.70" font-size="8.8" text-anchor="middle" fill="#2a2a2a" textLength="11.50" lengthAdjust="spacingAndGlyphs" stroke="#2a2a2a" stroke-width="0.2">2-4</text>
<text x="469.90" y="159.80" font-size="10.4" text-anchor="middle" fill="#2a2a2a" textLength="32.20" lengthAdjust="spacingAndGlyphs" stroke="#2a2a2a" stroke-width="0.25">CRS grade</text>
<text x="0" y="0" font-size="10.2" text-anchor="middle" fill="#2a2a2a" stroke="#2a2a2a" stroke-width="0.22" textLength="60" lengthAdjust="spacingAndGlyphs" transform="translate(392.50,86.25) rotate(-90)">Relative abundance</text>
<text x="311.90" y="186.50" font-size="9.8" text-anchor="middle" fill="#222" textLength="75.50" lengthAdjust="spacingAndGlyphs">Proline (q = 0.09)</text>
<line x1="278.3" y1="200.7" x2="343.7" y2="200.7" stroke="#555" stroke-width="1.05"/>
<text x="311.00" y="199.70" font-size="7.0" text-anchor="middle" fill="#333" textLength="20.01" lengthAdjust="spacingAndGlyphs" stroke="#333" stroke-width="0.15">&lt;0.01</text>
<line x1="278.3" y1="211.7" x2="310" y2="211.7" stroke="#555" stroke-width="1.05"/>
<text x="294.15" y="210.70" font-size="7.0" text-anchor="middle" fill="#333" textLength="15.39" lengthAdjust="spacingAndGlyphs" stroke="#333" stroke-width="0.15">0.65</text>
<line x1="312" y1="211.7" x2="343.7" y2="211.7" stroke="#555" stroke-width="1.05"/>
<text x="327.85" y="210.70" font-size="7.0" text-anchor="middle" fill="#333" textLength="15.39" lengthAdjust="spacingAndGlyphs" stroke="#333" stroke-width="0.15">0.01</text>
<line x1="282.75" y1="228" x2="282.75" y2="265.9" stroke="#3a3a3a" stroke-width="1.35"/>
<rect x="271.4" y="233.4" width="22.70" height="19.50" fill="#c2c5dd"/>
<line x1="271.4" y1="240.1" x2="294.1" y2="240.1" stroke="#1a2035" stroke-width="1.7"/>
<line x1="312.40" y1="215.4" x2="312.40" y2="261.4" stroke="#3a3a3a" stroke-width="1.35"/>
<rect x="301.3" y="228.4" width="22.20" height="23.90" fill="#7d8ab3"/>
<line x1="301.3" y1="239.2" x2="323.5" y2="239.2" stroke="#1a2035" stroke-width="1.7"/>
<line x1="342.30" y1="242.8" x2="342.30" y2="290.2" stroke="#3a3a3a" stroke-width="1.35"/>
<rect x="331" y="250" width="22.60" height="16.20" fill="#0f4d8b"/>
<line x1="331" y1="257.2" x2="353.6" y2="257.2" stroke="#1a2035" stroke-width="1.7"/>
<circle cx="270.6" cy="232.2" r="1.85" fill="#111"/>
<circle cx="276.0" cy="227.1" r="1.85" fill="#111"/>
<circle cx="282.2" cy="230.2" r="1.85" fill="#111"/>
<circle cx="287.2" cy="237.0" r="1.85" fill="#111"/>
<circle cx="291.2" cy="237.6" r="1.85" fill="#111"/>
<circle cx="271.4" cy="242.8" r="1.85" fill="#111"/>
<circle cx="288.1" cy="250.5" r="1.85" fill="#111"/>
<circle cx="272.5" cy="253.6" r="1.85" fill="#111"/>
<circle cx="280.6" cy="257.2" r="1.85" fill="#111"/>
<circle cx="284.0" cy="265.9" r="1.85" fill="#111"/>
<circle cx="310.9" cy="216.4" r="1.85" fill="#111"/>
<circle cx="318.1" cy="217.6" r="1.85" fill="#111"/>
<circle cx="302.2" cy="228.0" r="1.85" fill="#111"/>
<circle cx="307.3" cy="239.2" r="1.85" fill="#111"/>
<circle cx="321.1" cy="238.5" r="1.85" fill="#111"/>
<circle cx="309.1" cy="248.7" r="1.85" fill="#111"/>
<circle cx="303.6" cy="252.9" r="1.85" fill="#111"/>
<circle cx="321.7" cy="257.7" r="1.85" fill="#111"/>
<circle cx="321.7" cy="261.9" r="1.85" fill="#111"/>
<circle cx="332.8" cy="242.4" r="1.85" fill="#111"/>
<circle cx="348.7" cy="245.5" r="1.85" fill="#111"/>
<circle cx="352.7" cy="244.2" r="1.85" fill="#111"/>
<circle cx="334.3" cy="248.2" r="1.85" fill="#111"/>
<circle cx="342.2" cy="247.8" r="1.85" fill="#111"/>
<circle cx="350.0" cy="249.3" r="1.85" fill="#111"/>
<circle cx="331.9" cy="252.9" r="1.85" fill="#111"/>
<circle cx="349.0" cy="252.9" r="1.85" fill="#111"/>
<circle cx="353.6" cy="262.6" r="1.85" fill="#111"/>
<circle cx="336.1" cy="268.0" r="1.85" fill="#111"/>
<circle cx="333.7" cy="277.6" r="1.85" fill="#111"/>
<circle cx="343.6" cy="277.6" r="1.85" fill="#111"/>
<circle cx="347.6" cy="281.2" r="1.85" fill="#111"/>
<circle cx="342.2" cy="290.2" r="1.85" fill="#111"/>
<circle cx="335.0" cy="268.6" r="1.85" fill="#111"/>
<circle cx="337.0" cy="263.0" r="1.85" fill="#111"/>
<circle cx="345.0" cy="255.0" r="1.85" fill="#111"/>
<path d="M264.5 204.5 V294.1 H359.5" fill="none" stroke="#151515" stroke-width="1.25"/>
<line x1="261.7" y1="226" x2="264.5" y2="226" stroke="#222" stroke-width="1.15"/>
<text x="257.70" y="228.80" font-size="7.8" text-anchor="end" fill="#2a2a2a" textLength="11.06" lengthAdjust="spacingAndGlyphs" stroke="#2a2a2a" stroke-width="0.06">0.5</text>
<line x1="261.7" y1="250.7" x2="264.5" y2="250.7" stroke="#222" stroke-width="1.15"/>
<text x="257.70" y="253.50" font-size="7.8" text-anchor="end" fill="#2a2a2a" textLength="11.06" lengthAdjust="spacingAndGlyphs" stroke="#2a2a2a" stroke-width="0.06">0.0</text>
<line x1="261.7" y1="275.8" x2="264.5" y2="275.8" stroke="#222" stroke-width="1.15"/>
<text x="257.70" y="278.60" font-size="7.8" text-anchor="end" fill="#2a2a2a" textLength="15.40" lengthAdjust="spacingAndGlyphs" stroke="#2a2a2a" stroke-width="0.06">−0.5</text>
<line x1="282.3" y1="294.1" x2="282.3" y2="296.90000000000003" stroke="#222" stroke-width="1.15"/>
<text x="282.30" y="308.30" font-size="8.8" text-anchor="middle" fill="#2a2a2a" textLength="4.80" lengthAdjust="spacingAndGlyphs" stroke="#2a2a2a" stroke-width="0.2">0</text>
<line x1="312.2" y1="294.1" x2="312.2" y2="296.90000000000003" stroke="#222" stroke-width="1.15"/>
<text x="312.20" y="308.30" font-size="8.8" text-anchor="middle" fill="#2a2a2a" textLength="3.70" lengthAdjust="spacingAndGlyphs" stroke="#2a2a2a" stroke-width="0.2">1</text>
<line x1="342.2" y1="294.1" x2="342.2" y2="296.90000000000003" stroke="#222" stroke-width="1.15"/>
<text x="342.20" y="308.30" font-size="8.8" text-anchor="middle" fill="#2a2a2a" textLength="11.50" lengthAdjust="spacingAndGlyphs" stroke="#2a2a2a" stroke-width="0.2">2-4</text>
<text x="312.50" y="322.40" font-size="10.4" text-anchor="middle" fill="#2a2a2a" textLength="32.20" lengthAdjust="spacingAndGlyphs" stroke="#2a2a2a" stroke-width="0.25">CRS grade</text>
<text x="0" y="0" font-size="10.2" text-anchor="middle" fill="#2a2a2a" stroke="#2a2a2a" stroke-width="0.22" textLength="60" lengthAdjust="spacingAndGlyphs" transform="translate(236.20,249.30) rotate(-90)">Relative abundance</text>
<text x="469.50" y="186.60" font-size="9.8" text-anchor="middle" fill="#222" textLength="79.80" lengthAdjust="spacingAndGlyphs">Glycine (q = 0.09)</text>
<line x1="439" y1="200.3" x2="505.8" y2="200.3" stroke="#555" stroke-width="1.05"/>
<text x="472.40" y="199.30" font-size="7.0" text-anchor="middle" fill="#333" textLength="15.39" lengthAdjust="spacingAndGlyphs" stroke="#333" stroke-width="0.15">0.02</text>
<line x1="439" y1="212" x2="471.5" y2="212" stroke="#555" stroke-width="1.05"/>
<text x="455.25" y="211.00" font-size="7.0" text-anchor="middle" fill="#333" textLength="15.39" lengthAdjust="spacingAndGlyphs" stroke="#333" stroke-width="0.15">0.71</text>
<line x1="473.3" y1="212" x2="505.8" y2="212" stroke="#555" stroke-width="1.05"/>
<text x="489.55" y="211.00" font-size="7.0" text-anchor="middle" fill="#333" textLength="15.39" lengthAdjust="spacingAndGlyphs" stroke="#333" stroke-width="0.15">0.05</text>
<line x1="439.70" y1="215.5" x2="439.70" y2="258.2" stroke="#3a3a3a" stroke-width="1.35"/>
<rect x="428.6" y="234.8" width="22.20" height="15.80" fill="#c2c5dd"/>
<line x1="428.6" y1="245.3" x2="450.8" y2="245.3" stroke="#1a2035" stroke-width="1.7"/>
<line x1="469.75" y1="225.9" x2="469.75" y2="267.7" stroke="#3a3a3a" stroke-width="1.35"/>
<rect x="458.8" y="236.2" width="21.90" height="14.20" fill="#7d8ab3"/>
<line x1="458.8" y1="239.2" x2="480.7" y2="239.2" stroke="#1a2035" stroke-width="1.7"/>
<line x1="499.70" y1="233.5" x2="499.70" y2="271.5" stroke="#3a3a3a" stroke-width="1.35"/>
<rect x="488.3" y="250.6" width="22.80" height="13.00" fill="#0f4d8b"/>
<line x1="488.3" y1="256.8" x2="511.1" y2="256.8" stroke="#1a2035" stroke-width="1.7"/>
<circle cx="440.0" cy="215.5" r="1.85" fill="#111"/>
<circle cx="436.2" cy="223.4" r="1.85" fill="#111"/>
<circle cx="446.6" cy="232.2" r="1.85" fill="#111"/>
<circle cx="428.0" cy="242.5" r="1.85" fill="#111"/>
<circle cx="444.3" cy="242.5" r="1.85" fill="#111"/>
<circle cx="433.7" cy="248.3" r="1.85" fill="#111"/>
<circle cx="445.7" cy="251.0" r="1.85" fill="#111"/>
<circle cx="447.6" cy="250.6" r="1.85" fill="#111"/>
<circle cx="434.8" cy="252.9" r="1.85" fill="#111"/>
<circle cx="448.1" cy="258.8" r="1.85" fill="#111"/>
<circle cx="466.6" cy="225.3" r="1.85" fill="#111"/>
<circle cx="462.8" cy="236.4" r="1.85" fill="#111"/>
<circle cx="473.2" cy="236.0" r="1.85" fill="#111"/>
<circle cx="467.5" cy="238.3" r="1.85" fill="#111"/>
<circle cx="468.5" cy="240.2" r="1.85" fill="#111"/>
<circle cx="468.5" cy="250.6" r="1.85" fill="#111"/>
<circle cx="464.7" cy="254.0" r="1.85" fill="#111"/>
<circle cx="467.5" cy="267.7" r="1.85" fill="#111"/>
<circle cx="479.5" cy="249.7" r="1.85" fill="#111"/>
<circle cx="496.4" cy="224.0" r="1.85" fill="#111"/>
<circle cx="489.6" cy="236.4" r="1.85" fill="#111"/>
<circle cx="498.7" cy="234.1" r="1.85" fill="#111"/>
<circle cx="497.8" cy="239.2" r="1.85" fill="#111"/>
<circle cx="509.2" cy="243.0" r="1.85" fill="#111"/>
<circle cx="488.3" cy="250.2" r="1.85" fill="#111"/>
<circle cx="496.4" cy="250.6" r="1.85" fill="#111"/>
<circle cx="492.1" cy="253.5" r="1.85" fill="#111"/>
<circle cx="509.8" cy="256.7" r="1.85" fill="#111"/>
<circle cx="502.5" cy="260.1" r="1.85" fill="#111"/>
<circle cx="496.4" cy="266.2" r="1.85" fill="#111"/>
<circle cx="502.9" cy="265.5" r="1.85" fill="#111"/>
<circle cx="506.7" cy="266.2" r="1.85" fill="#111"/>
<circle cx="489.6" cy="271.5" r="1.85" fill="#111"/>
<circle cx="490.2" cy="290.2" r="1.85" fill="#111"/>
<path d="M422.1 204.7 V294.2 H516.8" fill="none" stroke="#151515" stroke-width="1.25"/>
<line x1="419.3" y1="209.9" x2="422.1" y2="209.9" stroke="#222" stroke-width="1.15"/>
<text x="415.30" y="212.70" font-size="7.8" text-anchor="end" fill="#2a2a2a" textLength="11.06" lengthAdjust="spacingAndGlyphs" stroke="#2a2a2a" stroke-width="0.06">1.0</text>
<line x1="419.3" y1="229.9" x2="422.1" y2="229.9" stroke="#222" stroke-width="1.15"/>
<text x="415.30" y="232.70" font-size="7.8" text-anchor="end" fill="#2a2a2a" textLength="11.06" lengthAdjust="spacingAndGlyphs" stroke="#2a2a2a" stroke-width="0.06">0.5</text>
<line x1="419.3" y1="250.6" x2="422.1" y2="250.6" stroke="#222" stroke-width="1.15"/>
<text x="415.30" y="253.40" font-size="7.8" text-anchor="end" fill="#2a2a2a" textLength="11.06" lengthAdjust="spacingAndGlyphs" stroke="#2a2a2a" stroke-width="0.06">0.0</text>
<line x1="419.3" y1="271.4" x2="422.1" y2="271.4" stroke="#222" stroke-width="1.15"/>
<text x="415.30" y="274.20" font-size="7.8" text-anchor="end" fill="#2a2a2a" textLength="15.40" lengthAdjust="spacingAndGlyphs" stroke="#2a2a2a" stroke-width="0.06">−0.5</text>
<line x1="419.3" y1="292.5" x2="422.1" y2="292.5" stroke="#222" stroke-width="1.15"/>
<text x="415.30" y="295.30" font-size="7.8" text-anchor="end" fill="#2a2a2a" textLength="15.40" lengthAdjust="spacingAndGlyphs" stroke="#2a2a2a" stroke-width="0.06">−1.0</text>
<line x1="439.7" y1="294.2" x2="439.7" y2="297.0" stroke="#222" stroke-width="1.15"/>
<text x="439.70" y="308.40" font-size="8.8" text-anchor="middle" fill="#2a2a2a" textLength="4.80" lengthAdjust="spacingAndGlyphs" stroke="#2a2a2a" stroke-width="0.2">0</text>
<line x1="469.6" y1="294.2" x2="469.6" y2="297.0" stroke="#222" stroke-width="1.15"/>
<text x="469.60" y="308.40" font-size="8.8" text-anchor="middle" fill="#2a2a2a" textLength="3.70" lengthAdjust="spacingAndGlyphs" stroke="#2a2a2a" stroke-width="0.2">1</text>
<line x1="499.3" y1="294.2" x2="499.3" y2="297.0" stroke="#222" stroke-width="1.15"/>
<text x="499.30" y="308.40" font-size="8.8" text-anchor="middle" fill="#2a2a2a" textLength="11.50" lengthAdjust="spacingAndGlyphs" stroke="#2a2a2a" stroke-width="0.2">2-4</text>
<text x="469.95" y="322.50" font-size="10.4" text-anchor="middle" fill="#2a2a2a" textLength="32.20" lengthAdjust="spacingAndGlyphs" stroke="#2a2a2a" stroke-width="0.25">CRS grade</text>
<text x="0" y="0" font-size="10.2" text-anchor="middle" fill="#2a2a2a" stroke="#2a2a2a" stroke-width="0.22" textLength="60" lengthAdjust="spacingAndGlyphs" transform="translate(393.60,249.45) rotate(-90)">Relative abundance</text>
<text x="312.60" y="349.90" font-size="9.8" text-anchor="middle" fill="#222" textLength="85.60" lengthAdjust="spacingAndGlyphs">N6-methyladenosine</text>
<text x="312.20" y="360.90" font-size="9.8" text-anchor="middle" fill="#222" textLength="43.00" lengthAdjust="spacingAndGlyphs">(q = 0.09)</text>
<line x1="281.6" y1="375.5" x2="347.3" y2="375.5" stroke="#555" stroke-width="1.05"/>
<text x="314.45" y="374.50" font-size="7.0" text-anchor="middle" fill="#333" textLength="15.39" lengthAdjust="spacingAndGlyphs" stroke="#333" stroke-width="0.15">0.02</text>
<line x1="281.6" y1="386.5" x2="313.4" y2="386.5" stroke="#555" stroke-width="1.05"/>
<text x="297.50" y="385.50" font-size="7.0" text-anchor="middle" fill="#333" textLength="15.39" lengthAdjust="spacingAndGlyphs" stroke="#333" stroke-width="0.15">0.15</text>
<line x1="315.1" y1="386.5" x2="348" y2="386.5" stroke="#555" stroke-width="1.05"/>
<text x="331.55" y="385.50" font-size="7.0" text-anchor="middle" fill="#333" textLength="15.39" lengthAdjust="spacingAndGlyphs" stroke="#333" stroke-width="0.15">0.23</text>
<line x1="282.80" y1="391" x2="282.80" y2="439.3" stroke="#3a3a3a" stroke-width="1.35"/>
<rect x="272.1" y="417.3" width="21.40" height="17.70" fill="#c2c5dd"/>
<line x1="272.1" y1="425" x2="293.5" y2="425" stroke="#1a2035" stroke-width="1.7"/>
<line x1="312.35" y1="417.3" x2="312.35" y2="453.6" stroke="#3a3a3a" stroke-width="1.35"/>
<rect x="301.3" y="423.8" width="22.10" height="11.20" fill="#7d8ab3"/>
<line x1="301.3" y1="434.7" x2="323.4" y2="434.7" stroke="#1a2035" stroke-width="1.7"/>
<line x1="342.15" y1="413" x2="342.15" y2="465.6" stroke="#3a3a3a" stroke-width="1.35"/>
<rect x="331.1" y="432" width="22.10" height="15.30" fill="#0f4d8b"/>
<line x1="331.1" y1="435.5" x2="353.2" y2="435.5" stroke="#1a2035" stroke-width="1.7"/>
<circle cx="286.6" cy="391.0" r="1.85" fill="#111"/>
<circle cx="278.8" cy="408.9" r="1.85" fill="#111"/>
<circle cx="272.1" cy="415.2" r="1.85" fill="#111"/>
<circle cx="271.5" cy="423.6" r="1.85" fill="#111"/>
<circle cx="281.5" cy="421.5" r="1.85" fill="#111"/>
<circle cx="287.2" cy="426.3" r="1.85" fill="#111"/>
<circle cx="284.1" cy="430.3" r="1.85" fill="#111"/>
<circle cx="275.0" cy="436.2" r="1.85" fill="#111"/>
<circle cx="277.1" cy="437.6" r="1.85" fill="#111"/>
<circle cx="279.9" cy="439.3" r="1.85" fill="#111"/>
<circle cx="312.2" cy="417.3" r="1.85" fill="#111"/>
<circle cx="308.7" cy="423.2" r="1.85" fill="#111"/>
<circle cx="322.3" cy="419.8" r="1.85" fill="#111"/>
<circle cx="303.0" cy="435.1" r="1.85" fill="#111"/>
<circle cx="307.2" cy="438.3" r="1.85" fill="#111"/>
<circle cx="317.7" cy="435.1" r="1.85" fill="#111"/>
<circle cx="321.9" cy="431.3" r="1.85" fill="#111"/>
<circle cx="324.4" cy="434.1" r="1.85" fill="#111"/>
<circle cx="303.4" cy="454.0" r="1.85" fill="#111"/>
<circle cx="336.4" cy="413.1" r="1.85" fill="#111"/>
<circle cx="335.3" cy="420.0" r="1.85" fill="#111"/>
<circle cx="343.7" cy="421.0" r="1.85" fill="#111"/>
<circle cx="348.6" cy="423.6" r="1.85" fill="#111"/>
<circle cx="352.8" cy="424.6" r="1.85" fill="#111"/>
<circle cx="331.1" cy="431.3" r="1.85" fill="#111"/>
<circle cx="332.8" cy="435.5" r="1.85" fill="#111"/>
<circle cx="334.5" cy="437.6" r="1.85" fill="#111"/>
<circle cx="341.6" cy="437.6" r="1.85" fill="#111"/>
<circle cx="351.7" cy="435.1" r="1.85" fill="#111"/>
<circle cx="341.6" cy="445.6" r="1.85" fill="#111"/>
<circle cx="332.4" cy="448.2" r="1.85" fill="#111"/>
<circle cx="334.9" cy="451.5" r="1.85" fill="#111"/>
<circle cx="353.8" cy="449.4" r="1.85" fill="#111"/>
<circle cx="353.4" cy="453.0" r="1.85" fill="#111"/>
<circle cx="334.9" cy="464.1" r="1.85" fill="#111"/>
<path d="M264.5 379.5 V469.5 H359.1" fill="none" stroke="#151515" stroke-width="1.25"/>
<line x1="261.7" y1="383.2" x2="264.5" y2="383.2" stroke="#222" stroke-width="1.15"/>
<text x="257.70" y="386.00" font-size="7.8" text-anchor="end" fill="#2a2a2a" textLength="11.06" lengthAdjust="spacingAndGlyphs" stroke="#2a2a2a" stroke-width="0.06">1.0</text>
<line x1="261.7" y1="408.4" x2="264.5" y2="408.4" stroke="#222" stroke-width="1.15"/>
<text x="257.70" y="411.20" font-size="7.8" text-anchor="end" fill="#2a2a2a" textLength="11.06" lengthAdjust="spacingAndGlyphs" stroke="#2a2a2a" stroke-width="0.06">0.5</text>
<line x1="261.7" y1="433.7" x2="264.5" y2="433.7" stroke="#222" stroke-width="1.15"/>
<text x="257.70" y="436.50" font-size="7.8" text-anchor="end" fill="#2a2a2a" textLength="11.06" lengthAdjust="spacingAndGlyphs" stroke="#2a2a2a" stroke-width="0.06">0.0</text>
<line x1="261.7" y1="459.3" x2="264.5" y2="459.3" stroke="#222" stroke-width="1.15"/>
<text x="257.70" y="462.10" font-size="7.8" text-anchor="end" fill="#2a2a2a" textLength="15.40" lengthAdjust="spacingAndGlyphs" stroke="#2a2a2a" stroke-width="0.06">−0.5</text>
<line x1="282.6" y1="469.5" x2="282.6" y2="472.3" stroke="#222" stroke-width="1.15"/>
<text x="282.60" y="483.70" font-size="8.8" text-anchor="middle" fill="#2a2a2a" textLength="4.80" lengthAdjust="spacingAndGlyphs" stroke="#2a2a2a" stroke-width="0.2">0</text>
<line x1="312.3" y1="469.5" x2="312.3" y2="472.3" stroke="#222" stroke-width="1.15"/>
<text x="312.30" y="483.70" font-size="8.8" text-anchor="middle" fill="#2a2a2a" textLength="3.70" lengthAdjust="spacingAndGlyphs" stroke="#2a2a2a" stroke-width="0.2">1</text>
<line x1="342.5" y1="469.5" x2="342.5" y2="472.3" stroke="#222" stroke-width="1.15"/>
<text x="342.50" y="483.70" font-size="8.8" text-anchor="middle" fill="#2a2a2a" textLength="11.50" lengthAdjust="spacingAndGlyphs" stroke="#2a2a2a" stroke-width="0.2">2-4</text>
<text x="312.30" y="497.80" font-size="10.4" text-anchor="middle" fill="#2a2a2a" textLength="32.20" lengthAdjust="spacingAndGlyphs" stroke="#2a2a2a" stroke-width="0.25">CRS grade</text>
<text x="0" y="0" font-size="10.2" text-anchor="middle" fill="#2a2a2a" stroke="#2a2a2a" stroke-width="0.22" textLength="60" lengthAdjust="spacingAndGlyphs" transform="translate(236.20,424.50) rotate(-90)">Relative abundance</text>
<text x="466.70" y="350.00" font-size="9.8" text-anchor="middle" fill="#222" textLength="98.60" lengthAdjust="spacingAndGlyphs">Gamma-glutamylglycine</text>
<text x="467.50" y="361.40" font-size="9.8" text-anchor="middle" fill="#222" textLength="42.80" lengthAdjust="spacingAndGlyphs">(q = 0.09)</text>
<line x1="435.2" y1="374.8" x2="500.8" y2="374.8" stroke="#555" stroke-width="1.05"/>
<text x="468.00" y="373.80" font-size="7.0" text-anchor="middle" fill="#333" textLength="15.39" lengthAdjust="spacingAndGlyphs" stroke="#333" stroke-width="0.15">0.01</text>
<line x1="435.2" y1="386.2" x2="467" y2="386.2" stroke="#555" stroke-width="1.05"/>
<text x="451.10" y="385.20" font-size="7.0" text-anchor="middle" fill="#333" textLength="15.39" lengthAdjust="spacingAndGlyphs" stroke="#333" stroke-width="0.15">0.26</text>
<line x1="469.3" y1="386.2" x2="500.8" y2="386.2" stroke="#555" stroke-width="1.05"/>
<text x="485.05" y="385.20" font-size="7.0" text-anchor="middle" fill="#333" textLength="15.39" lengthAdjust="spacingAndGlyphs" stroke="#333" stroke-width="0.15">0.17</text>
<line x1="435.75" y1="391" x2="435.75" y2="415.2" stroke="#3a3a3a" stroke-width="1.35"/>
<rect x="423.7" y="394.2" width="24.10" height="21.00" fill="#c2c5dd"/>
<line x1="423.7" y1="406.3" x2="447.8" y2="406.3" stroke="#1a2035" stroke-width="1.7"/>
<line x1="467.85" y1="401.5" x2="467.85" y2="428.8" stroke="#3a3a3a" stroke-width="1.35"/>
<rect x="455.9" y="406.1" width="23.90" height="8.60" fill="#7d8ab3"/>
<line x1="455.9" y1="410.5" x2="479.8" y2="410.5" stroke="#1a2035" stroke-width="1.7"/>
<line x1="499.70" y1="393.5" x2="499.70" y2="428.8" stroke="#3a3a3a" stroke-width="1.35"/>
<rect x="487.8" y="408.9" width="23.80" height="14.30" fill="#0f4d8b"/>
<line x1="487.8" y1="419.0" x2="511.6" y2="419.0" stroke="#1a2035" stroke-width="1.7"/>
<circle cx="427.9" cy="392.1" r="1.85" fill="#111"/>
<circle cx="430.4" cy="391.6" r="1.85" fill="#111"/>
<circle cx="437.3" cy="390.4" r="1.85" fill="#111"/>
<circle cx="437.3" cy="401.5" r="1.85" fill="#111"/>
<circle cx="427.2" cy="404.7" r="1.85" fill="#111"/>
<circle cx="440.5" cy="407.8" r="1.85" fill="#111"/>
<circle cx="425.1" cy="415.2" r="1.85" fill="#111"/>
<circle cx="438.4" cy="414.7" r="1.85" fill="#111"/>
<circle cx="441.1" cy="415.2" r="1.85" fill="#111"/>
<circle cx="470.6" cy="391.4" r="1.85" fill="#111"/>
<circle cx="479.0" cy="401.5" r="1.85" fill="#111"/>
<circle cx="474.8" cy="405.7" r="1.85" fill="#111"/>
<circle cx="476.9" cy="406.1" r="1.85" fill="#111"/>
<circle cx="470.0" cy="410.3" r="1.85" fill="#111"/>
<circle cx="455.3" cy="413.1" r="1.85" fill="#111"/>
<circle cx="466.8" cy="415.2" r="1.85" fill="#111"/>
<circle cx="455.3" cy="428.8" r="1.85" fill="#111"/>
<circle cx="479.4" cy="426.7" r="1.85" fill="#111"/>
<circle cx="488.4" cy="392.7" r="1.85" fill="#111"/>
<circle cx="500.0" cy="396.9" r="1.85" fill="#111"/>
<circle cx="502.9" cy="400.5" r="1.85" fill="#111"/>
<circle cx="509.9" cy="399.4" r="1.85" fill="#111"/>
<circle cx="506.7" cy="406.1" r="1.85" fill="#111"/>
<circle cx="488.9" cy="407.8" r="1.85" fill="#111"/>
<circle cx="492.0" cy="415.8" r="1.85" fill="#111"/>
<circle cx="501.5" cy="417.9" r="1.85" fill="#111"/>
<circle cx="510.9" cy="417.9" r="1.85" fill="#111"/>
<circle cx="491.0" cy="422.9" r="1.85" fill="#111"/>
<circle cx="501.5" cy="424.2" r="1.85" fill="#111"/>
<circle cx="488.9" cy="429.2" r="1.85" fill="#111"/>
<circle cx="497.9" cy="429.9" r="1.85" fill="#111"/>
<circle cx="505.0" cy="432.0" r="1.85" fill="#111"/>
<circle cx="506.7" cy="465.6" r="1.85" fill="#111"/>
<circle cx="499.4" cy="429.9" r="1.85" fill="#111"/>
<path d="M416.4 379.5 V469.5 H518" fill="none" stroke="#151515" stroke-width="1.25"/>
<line x1="413.59999999999997" y1="385.5" x2="416.4" y2="385.5" stroke="#222" stroke-width="1.15"/>
<text x="409.60" y="388.30" font-size="7.8" text-anchor="end" fill="#2a2a2a" stroke="#2a2a2a" stroke-width="0.06">1</text>
<line x1="413.59999999999997" y1="415.2" x2="416.4" y2="415.2" stroke="#222" stroke-width="1.15"/>
<text x="409.60" y="418.00" font-size="7.8" text-anchor="end" fill="#2a2a2a" stroke="#2a2a2a" stroke-width="0.06">0</text>
<line x1="413.59999999999997" y1="444.6" x2="416.4" y2="444.6" stroke="#222" stroke-width="1.15"/>
<text x="409.60" y="447.40" font-size="7.8" text-anchor="end" fill="#2a2a2a" stroke="#2a2a2a" stroke-width="0.06">−1</text>
<line x1="435.5" y1="469.5" x2="435.5" y2="472.3" stroke="#222" stroke-width="1.15"/>
<text x="435.50" y="483.70" font-size="8.8" text-anchor="middle" fill="#2a2a2a" textLength="4.80" lengthAdjust="spacingAndGlyphs" stroke="#2a2a2a" stroke-width="0.2">0</text>
<line x1="467.3" y1="469.5" x2="467.3" y2="472.3" stroke="#222" stroke-width="1.15"/>
<text x="467.30" y="483.70" font-size="8.8" text-anchor="middle" fill="#2a2a2a" textLength="3.70" lengthAdjust="spacingAndGlyphs" stroke="#2a2a2a" stroke-width="0.2">1</text>
<line x1="499.8" y1="469.5" x2="499.8" y2="472.3" stroke="#222" stroke-width="1.15"/>
<text x="499.80" y="483.70" font-size="8.8" text-anchor="middle" fill="#2a2a2a" textLength="11.50" lengthAdjust="spacingAndGlyphs" stroke="#2a2a2a" stroke-width="0.2">2-4</text>
<text x="467.70" y="497.80" font-size="10.4" text-anchor="middle" fill="#2a2a2a" textLength="32.20" lengthAdjust="spacingAndGlyphs" stroke="#2a2a2a" stroke-width="0.25">CRS grade</text>
<text x="0" y="0" font-size="10.2" text-anchor="middle" fill="#2a2a2a" stroke="#2a2a2a" stroke-width="0.22" textLength="60" lengthAdjust="spacingAndGlyphs" transform="translate(390.40,424.50) rotate(-90)">Relative abundance</text>
</svg></body></html>
